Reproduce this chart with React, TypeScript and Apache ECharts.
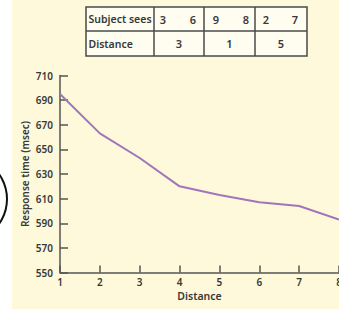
import React, { useEffect, useRef } from "react";
import * as echarts from "echarts";

const distances = [1, 2, 3, 4, 5, 6, 7, 8];
const responseTimes = [695, 663, 643, 620, 613, 607, 604, 593];
const subjectSees = ["3", "6", "9", "8", "2", "7"];
const distanceRow = ["3", "1", "5"];
const tableHeaders = ["Subject sees", "Distance"];

const FONT = "'Noto Sans', 'Open Sans', sans-serif";
const TXT = "#383838";
const AXIS = "#555555";

export default function App() {
  const ref = useRef<HTMLDivElement>(null);
  useEffect(() => {
    if (!ref.current) return;
    const chart = echarts.init(ref.current, undefined, { renderer: "svg" });

    const tL = 86, tR = 307, tT = 7, tM = 31, tB = 56;
    const cols = [154, 204, 255];
    const subjX = [163, 193, 216, 246, 266, 295];
    const distX = [179, 229.5, 281];
    const line = (x1: number, y1: number, x2: number, y2: number) => ({
      type: "line",
      shape: { x1, y1, x2, y2 },
      style: { stroke: "#4a4a4a", lineWidth: 1.5 },
      z: 10,
    });
    const txt = (x: number, y: number, s: string, align = "center", size = 11) => ({
      type: "text",
      x,
      y,
      z: 11,
      style: {
        text: s,
        fill: TXT,
        font: `600 ${size}px ${FONT}`,
        align,
        verticalAlign: "middle",
      },
    });

    const graphics: any[] = [
      {
        type: "rect",
        z: -100,
        shape: { x: 12, y: 0, width: 327, height: 309 },
        style: { fill: "#fdf9da" },
        silent: true,
      },
      {
        type: "circle",
        z: 5,
        shape: { cx: -36, cy: 199, r: 43 },
        style: { fill: "none", stroke: "#111111", lineWidth: 2 },
      },
      {
        type: "rect",
        z: 9,
        shape: { x: tL, y: tT, width: tR - tL, height: tB - tT },
        style: { fill: "#fffdf0", stroke: "#4a4a4a", lineWidth: 1.5 },
      },
      line(tL, tM, tR, tM),
      ...cols.map((c) => line(c, tT, c, tB)),
      txt(tL + 2.5, (tT + tM) / 2, tableHeaders[0], "left", 10.5),
      txt(tL + 2.5, (tM + tB) / 2, tableHeaders[1], "left", 10.5),
      ...subjectSees.map((s, i) => txt(subjX[i], (tT + tM) / 2, s)),
      ...distanceRow.map((s, i) => txt(distX[i], (tM + tB) / 2, s)),
    ];

    chart.setOption({
      animation: false,
      backgroundColor: "#ffffff",
      textStyle: { fontFamily: FONT },
      graphic: graphics,
      grid: {
        left: 60,
        right: 0,
        top: 75.5,
        bottom: 36.5,
        containLabel: false,
        outerBoundsMode: "none",
      },
      xAxis: {
        type: "value",
        min: 1,
        max: 8,
        interval: 1,
        name: "Distance",
        nameLocation: "middle",
        nameGap: 18,
        nameMoveOverlap: false,
        nameTextStyle: { color: TXT, fontSize: 10.5, fontWeight: 600, fontFamily: FONT },
        axisLine: { show: true, lineStyle: { color: AXIS, width: 1.5 } },
        axisTick: { show: true, inside: true, length: 7, lineStyle: { color: AXIS, width: 1.5 } },
        axisLabel: { color: TXT, fontSize: 10, fontWeight: 600, margin: 4, fontFamily: FONT },
        splitLine: { show: false },
      },
      yAxis: {
        type: "value",
        min: 550,
        max: 710,
        interval: 20,
        name: "Response time (msec)",
        nameLocation: "middle",
        nameGap: 30,
        nameMoveOverlap: false,
        nameTextStyle: { color: TXT, fontSize: 10, fontWeight: 600, fontFamily: FONT },
        axisLine: { show: true, lineStyle: { color: AXIS, width: 1.5 } },
        axisTick: { show: true, inside: true, length: 8, lineStyle: { color: AXIS, width: 1.5 } },
        axisLabel: { color: TXT, fontSize: 10, fontWeight: 600, margin: 7, fontFamily: FONT },
        splitLine: { show: false },
      },
      series: [
        {
          type: "line",
          data: distances.map((d, i) => [d, responseTimes[i]]),
          symbol: "none",
          lineStyle: { color: "#a274ba", width: 2 },
        },
      ],
    });
    return () => chart.dispose();
  }, []);
  return (
    <div
      ref={ref}
      style={{ position: "absolute", left: 0, top: 0, width: 339, height: 309 }}
    />
  );
}
